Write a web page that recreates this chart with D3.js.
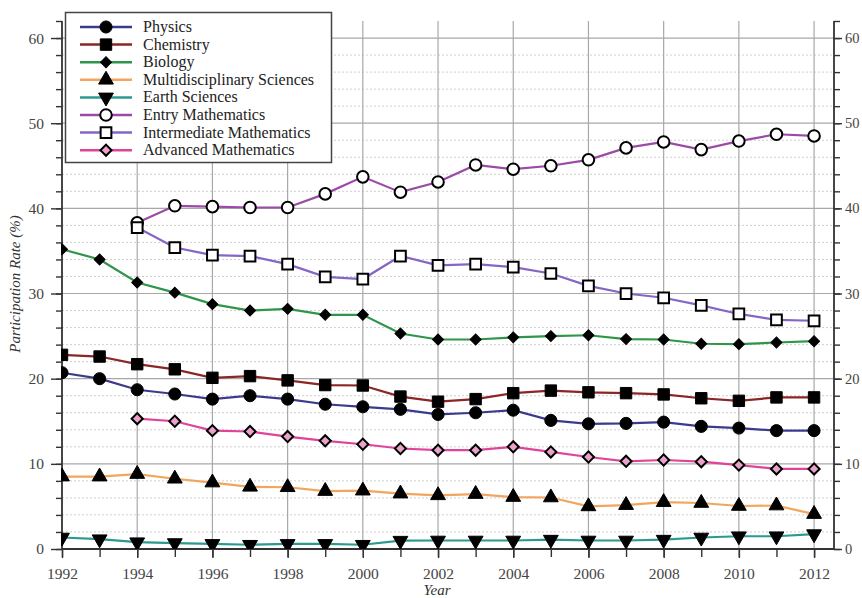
<!DOCTYPE html>
<html>
<head>
<meta charset="utf-8">
<script src="https://cdn.jsdelivr.net/npm/d3@7"></script>
<style>
  body { margin: 0; background: #fff; }
  svg { font-family: "Liberation Serif", "Times New Roman", serif; }
  .tick text { fill: #444; font-size: 15.5px; font-family: "Liberation Serif", "Times New Roman", serif; }
  .right .tick text { font-size: 14.5px; }
  .axislabel { font-style: italic; font-size: 15px; fill: #333; }
  .legend text { font-size: 16px; fill: #222; }
</style>
</head>
<body>
<div id="chart"></div>
<script>
// years on the x axis
var years = d3.range(1992, 2013);
var mathYears = d3.range(1994, 2013);

// participation rates (%)
var physics = [20.7, 20.0, 18.7, 18.2, 17.6, 18.0, 17.6, 17.0, 16.7, 16.4, 15.8, 16.0, 16.3, 15.1, 14.7, 14.75, 14.9, 14.4, 14.2, 13.9, 13.9];
var chemistry = [22.8, 22.6, 21.7, 21.1, 20.1, 20.3, 19.8, 19.25, 19.2, 17.9, 17.3, 17.6, 18.3, 18.6, 18.4, 18.3, 18.15, 17.7, 17.4, 17.8, 17.8];
var biology = [35.2, 34.0, 31.3, 30.1, 28.75, 28.0, 28.2, 27.5, 27.5, 25.3, 24.6, 24.6, 24.85, 25.0, 25.1, 24.65, 24.6, 24.1, 24.05, 24.25, 24.4];
var multidisciplinary = [8.5, 8.5, 8.8, 8.25, 7.8, 7.3, 7.25, 6.8, 6.85, 6.5, 6.3, 6.45, 6.1, 6.05, 5.0, 5.15, 5.5, 5.4, 5.05, 5.1, 4.1];
var earth = [1.35, 1.15, 0.8, 0.7, 0.6, 0.5, 0.6, 0.6, 0.5, 0.98, 1.0, 1.0, 1.0, 1.1, 1.0, 1.0, 1.1, 1.35, 1.5, 1.5, 1.75];
var entryMath = [38.3, 40.3, 40.2, 40.1, 40.1, 41.7, 43.7, 41.9, 43.1, 45.1, 44.6, 45.0, 45.7, 47.1, 47.8, 46.9, 47.9, 48.7, 48.5];
var intermediateMath = [37.75, 35.4, 34.5, 34.4, 33.45, 31.95, 31.7, 34.4, 33.3, 33.45, 33.1, 32.35, 30.9, 30.0, 29.5, 28.6, 27.6, 26.9, 26.8];
var advancedMath = [15.3, 15.0, 13.9, 13.8, 13.2, 12.7, 12.3, 11.8, 11.6, 11.6, 12.0, 11.4, 10.8, 10.3, 10.45, 10.25, 9.85, 9.4, 9.4];

var seriesNames = ["Physics", "Chemistry", "Biology", "Multidisciplinary Sciences", "Earth Sciences",
  "Entry Mathematics", "Intermediate Mathematics", "Advanced Mathematics"];

var yTicks = [0, 10, 20, 30, 40, 50, 60];
var xTicks = [1992, 1994, 1996, 1998, 2000, 2002, 2004, 2006, 2008, 2010, 2012];

// series table, styles live here and not in the data arrays
var series = [
  { name: seriesNames[0], x: years, y: physics, color: "#3b3b8e", shape: d3.symbolCircle, size: 115, fill: "#000" },
  { name: seriesNames[1], x: years, y: chemistry, color: "#8a2626", shape: d3.symbolSquare, size: 130, fill: "#000" },
  { name: seriesNames[2], x: years, y: biology, color: "#2f9548", shape: d3.symbolSquare, size: 60, fill: "#000", rotate: 45 },
  { name: seriesNames[3], x: years, y: multidisciplinary, color: "#f2a55c", shape: d3.symbolTriangle, size: 95, fill: "#000" },
  { name: seriesNames[4], x: years, y: earth, color: "#2a9a8e", shape: d3.symbolTriangle, size: 95, fill: "#000", rotate: 180 },
  { name: seriesNames[5], x: mathYears, y: entryMath, color: "#9b4aa6", shape: d3.symbolCircle, size: 105, fill: "#fff", open: true },
  { name: seriesNames[6], x: mathYears, y: intermediateMath, color: "#8566c4", shape: d3.symbolSquare, size: 115, fill: "#fff", open: true },
  { name: seriesNames[7], x: mathYears, y: advancedMath, color: "#e0449a", shape: d3.symbolSquare, size: 62, fill: "#eaa2cc", open: true, rotate: 45 }
];

var W = 862, H = 598;
var svg = d3.select("#chart").append("svg")
  .attr("width", W)
  .attr("height", H);

var plotLeft = 62, plotRight = 834, plotTop = 21, plotBottom = 549;

var x = d3.scaleLinear().domain([1992, 2012.53]).range([plotLeft, plotRight]);
var y = d3.scaleLinear().domain([0, 62]).range([plotBottom, plotTop]);

// minor horizontal gridlines (every 2)
svg.append("g")
  .selectAll("line")
  .data(d3.range(2, 62, 2).filter(function(d) { return d % 10 != 0; }))
  .join("line")
  .attr("x1", plotLeft).attr("x2", plotRight)
  .attr("y1", function(d) { return y(d); })
  .attr("y2", function(d) { return y(d); })
  .attr("stroke", "#cfcfcf")
  .attr("stroke-width", 1)
  .attr("stroke-dasharray", "2,2");

// major horizontal gridlines
svg.append("g")
  .selectAll("line")
  .data(yTicks.slice(1))
  .join("line")
  .attr("x1", plotLeft).attr("x2", plotRight)
  .attr("y1", function(d) { return y(d); })
  .attr("y2", function(d) { return y(d); })
  .attr("stroke", "#a8a8a8")
  .attr("stroke-width", 1.2);

// vertical gridlines at even years
svg.append("g")
  .selectAll("line")
  .data(xTicks.slice(1))
  .join("line")
  .attr("x1", function(d) { return x(d); })
  .attr("x2", function(d) { return x(d); })
  .attr("y1", plotTop).attr("y2", plotBottom)
  .attr("stroke", "#a8a8a8")
  .attr("stroke-width", 1.2);

// axes
var minorY = d3.range(0, 63, 2);
var leftMinor = d3.axisLeft(y).tickValues(minorY).tickSize(6).tickFormat("");
var leftMajor = d3.axisLeft(y).tickValues(yTicks).tickSize(11).tickPadding(7);
var rightMinor = d3.axisRight(y).tickValues(minorY).tickSize(6).tickFormat("");
var rightMajor = d3.axisRight(y).tickValues(yTicks).tickSize(8).tickPadding(3);
var bottomMinor = d3.axisBottom(x).tickValues(years).tickSize(8).tickFormat("");
var bottomMajor = d3.axisBottom(x).tickValues(xTicks).tickSize(9).tickPadding(10).tickFormat(d3.format("d"));

function styleAxis(g) {
  g.select(".domain").remove();
  g.attr("font-family", null).attr("font-size", null);
  g.selectAll(".tick line").attr("stroke", "#333").attr("stroke-width", 1.4);
}

svg.append("g").attr("transform", "translate(" + plotLeft + ",0)").call(leftMinor).call(styleAxis);
svg.append("g").attr("transform", "translate(" + plotLeft + ",0)").call(leftMajor).call(styleAxis);
svg.append("g").attr("transform", "translate(" + plotRight + ",0)").call(rightMinor).call(styleAxis);
svg.append("g").attr("class", "right").attr("transform", "translate(" + plotRight + ",0)").call(rightMajor).call(styleAxis);
svg.append("g").attr("transform", "translate(0," + plotBottom + ")").call(bottomMinor).call(styleAxis);
svg.append("g").attr("transform", "translate(0," + plotBottom + ")").call(bottomMajor).call(styleAxis);

// axis frame lines (left, bottom, right)
svg.append("path")
  .attr("d", "M" + plotLeft + "," + plotTop + "V" + plotBottom + "H" + plotRight + "V" + plotTop)
  .attr("fill", "none")
  .attr("stroke", "#333")
  .attr("stroke-width", 1.8);

// axis titles
svg.append("text")
  .attr("class", "axislabel")
  .attr("text-anchor", "middle")
  .attr("transform", "translate(20,284) rotate(-90)")
  .text("Participation Rate (%)");

svg.append("text")
  .attr("class", "axislabel")
  .attr("text-anchor", "middle")
  .attr("x", 437)
  .attr("y", 595)
  .text("Year");

// clip lines to plot area
svg.append("clipPath").attr("id", "plotclip")
  .append("rect")
  .attr("x", plotLeft - 1).attr("y", plotTop)
  .attr("width", plotRight - plotLeft + 2).attr("height", plotBottom - plotTop);

var plot = svg.append("g").attr("clip-path", "url(#plotclip)");

var line = d3.line()
  .x(function(d) { return x(d[0]); })
  .y(function(d) { return y(d[1]); });

series.forEach(function(s) {
  var pts = s.x.map(function(yr, i) { return [yr, s.y[i]]; });
  plot.append("path")
    .datum(pts)
    .attr("fill", "none")
    .attr("stroke", s.color)
    .attr("stroke-width", 2.2)
    .attr("d", line);
});

function drawMarker(g, s) {
  var sym = d3.symbol().type(s.shape).size(s.size);
  return g.append("path")
    .attr("d", sym)
    .attr("fill", s.fill)
    .attr("stroke", "#000")
    .attr("stroke-width", s.open ? 2 : 1);
}

series.forEach(function(s) {
  s.x.forEach(function(yr, i) {
    var g = plot.append("g")
      .attr("transform", "translate(" + x(yr) + "," + y(s.y[i]) + ")" + (s.rotate ? " rotate(" + s.rotate + ")" : ""));
    drawMarker(g, s);
  });
});

// legend
var legend = svg.append("g").attr("class", "legend");
legend.append("rect")
  .attr("x", 65.5).attr("y", 12.5)
  .attr("width", 266).attr("height", 150)
  .attr("fill", "#fff")
  .attr("stroke", "#444")
  .attr("stroke-width", 1.5);

series.forEach(function(s, i) {
  var ly = 27 + i * 17.6;
  var row = legend.append("g");
  row.append("line")
    .attr("x1", 80).attr("x2", 132)
    .attr("y1", ly).attr("y2", ly)
    .attr("stroke", s.color)
    .attr("stroke-width", 2.5);
  var g = row.append("g")
    .attr("transform", "translate(106," + ly + ")" + (s.rotate ? " rotate(" + s.rotate + ")" : ""));
  drawMarker(g, s);
  row.append("text")
    .attr("x", 143)
    .attr("y", ly + 5)
    .text(s.name);
});
</script>
</body>
</html>
